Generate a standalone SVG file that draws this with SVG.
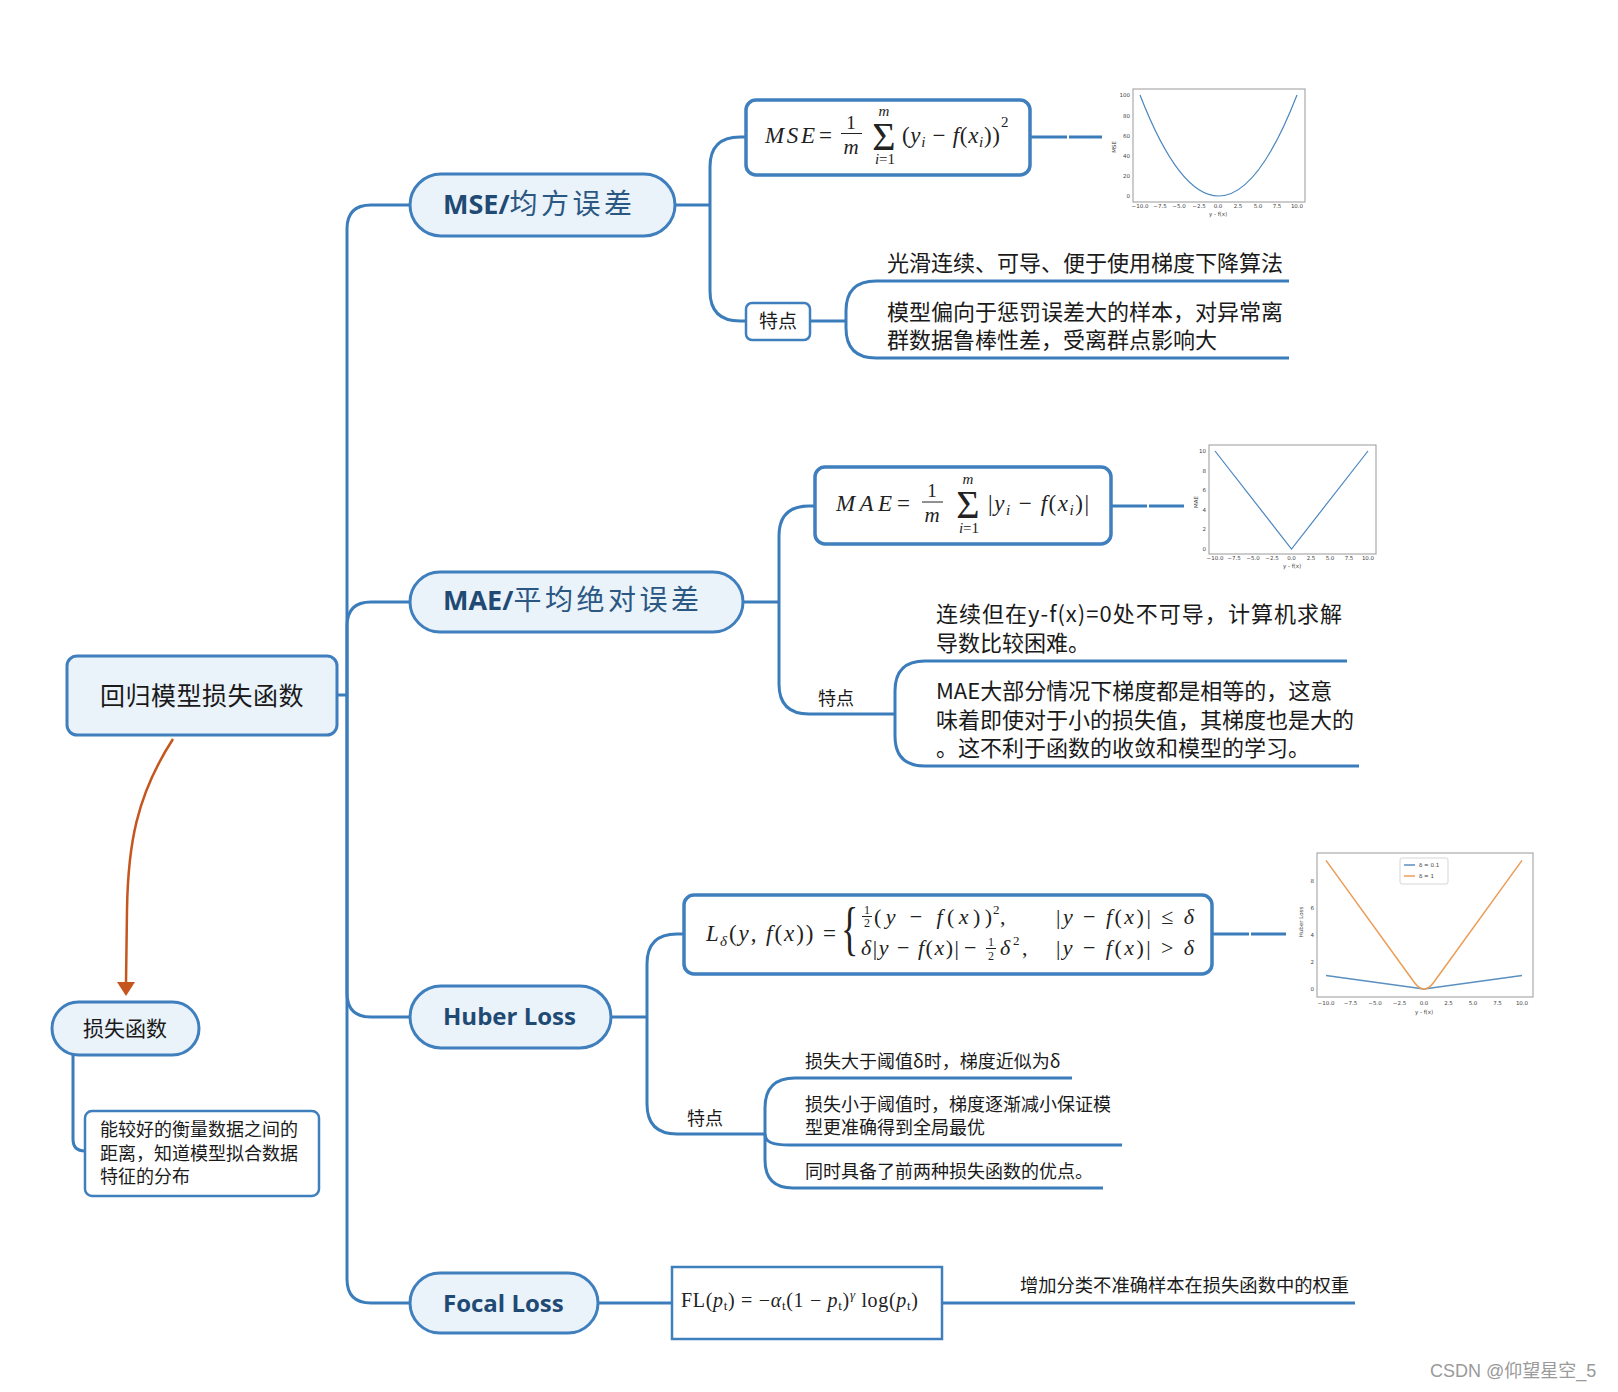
<svg xmlns="http://www.w3.org/2000/svg" width="1618" height="1392" viewBox="0 0 1618 1392">
<defs>
<style>
.ln{fill:none;stroke:#3b7dbb;stroke-width:3}
.node{fill:#eaf2fa;stroke:#3f7fbd;stroke-width:3}
.fbox{fill:#fff;stroke:#3f7fbd;stroke-width:3.5}
.cn{font-family:"Noto Sans CJK SC","Noto Sans",sans-serif;fill:#1a1a1a}
.nt{font-family:"Open Sans","Noto Sans",sans-serif;font-weight:700;fill:#1f4a74}
.nc{font-family:"Noto Sans CJK SC",sans-serif;font-weight:400;fill:#2b5783}
.mth{font-family:"Liberation Serif","DejaVu Serif",serif;fill:#222}
.it{font-style:italic}
.tk{font-family:"DejaVu Sans",sans-serif;font-size:5.5px;fill:#444}
.frame{fill:#fff;stroke:#999;stroke-width:1}
.bar{stroke:#222;stroke-width:1}
</style>
</defs>

<g id="connectors">
<path class="ln" d="M337,695 H347"/>
<path class="ln" d="M347,695 V229 Q347,205 371,205 H410"/>
<path class="ln" d="M347,695 V626 Q347,602 371,602 H410"/>
<path class="ln" d="M347,695 V993 Q347,1017 371,1017 H410"/>
<path class="ln" d="M347,695 V1279 Q347,1303 371,1303 H410"/>
<!-- MSE -->
<path class="ln" d="M675,205 H710"/>
<path class="ln" d="M710,205 V167 Q710,137 740,137 H746"/>
<path class="ln" d="M710,205 V291 Q710,321 740,321 H746"/>
<path class="ln" d="M810,321 H846"/>
<path class="ln" d="M846,321 V311 Q846,281 876,281 H1289"/>
<path class="ln" d="M846,321 V328 Q846,358 876,358 H1289"/>
<path class="ln" d="M1030,137 H1067" stroke-width="3.5"/>
<path class="ln" d="M1069,137 H1102"/>
<!-- MAE -->
<path class="ln" d="M743,602 H779"/>
<path class="ln" d="M779,602 V536 Q779,506 809,506 H815"/>
<path class="ln" d="M779,602 V684 Q779,714 809,714 H895"/>
<path class="ln" d="M895,714 V691 Q895,661 925,661 H1347"/>
<path class="ln" d="M895,714 V736 Q895,766 925,766 H1359"/>
<path class="ln" d="M1111,506 H1147" stroke-width="3.5"/>
<path class="ln" d="M1149,506 H1184"/>
<!-- Huber -->
<path class="ln" d="M611,1017 H647"/>
<path class="ln" d="M647,1017 V964 Q647,934 677,934 H684"/>
<path class="ln" d="M647,1017 V1104 Q647,1134 677,1134 H765"/>
<path class="ln" d="M765,1134 V1108 Q765,1078 795,1078 H1072"/>
<path class="ln" d="M765,1134 C765,1142 772,1145 790,1145 H1122"/>
<path class="ln" d="M765,1134 V1160 Q765,1188 793,1188 H1103"/>
<path class="ln" d="M1212,934 H1249" stroke-width="3.5"/>
<path class="ln" d="M1251,934 H1286"/>
<!-- Focal -->
<path class="ln" d="M598,1303 H672"/>
<path class="ln" d="M942,1303 H1355"/>
<!-- loss function -->
<path class="ln" d="M73,1055 V1139 Q73,1151 85,1151"/>
<path d="M173,739 C136,796 128,846 127,910 L126,983" fill="none" stroke="#c5561e" stroke-width="2.5"/>
<polygon points="117,982 135,982 126,996" fill="#c5561e"/>
</g>

<g id="root">
<rect class="node" x="67" y="656" width="270" height="79" rx="10" stroke-width="2.5"/>
<text class="cn" x="202" y="705" font-size="25" text-anchor="middle" letter-spacing="0.5">回归模型损失函数</text>
</g>

<g id="loss">
<rect class="node" x="52" y="1002" width="147" height="53" rx="26.5" stroke-width="2.5"/>
<text class="cn" x="125" y="1036" font-size="21" text-anchor="middle">损失函数</text>
</g>

<g id="loss-desc">
<rect x="85" y="1111" width="234" height="85" rx="7" fill="#fff" stroke="#3f7fbd" stroke-width="2.5"/>
<text class="cn" x="100" y="1136" font-size="18">能较好的衡量数据之间的</text>
<text class="cn" x="100" y="1160" font-size="18">距离，知道模型拟合数据</text>
<text class="cn" x="100" y="1183" font-size="18">特征的分布</text>
</g>

<g id="mse">
<rect class="node" x="410" y="174" width="265" height="62" rx="31"/>
<text class="nt" x="443" y="214" font-size="27">MSE/<tspan class="nc" font-size="28" letter-spacing="3.5">均方误差</tspan></text>
</g>

<g id="mse-formula">
<rect class="fbox" x="746" y="100" width="284" height="75" rx="10"/>
<text class="mth it" x="765" y="143" font-size="23" textLength="50" lengthAdjust="spacing">MSE</text>
<text class="mth" x="819" y="143" font-size="23">=</text>
<text class="mth" x="851" y="129" font-size="19" text-anchor="middle">1</text>
<line class="bar" x1="841" y1="133.5" x2="862" y2="133.5"/>
<text class="mth it" x="851" y="154" font-size="21" text-anchor="middle">m</text>
<text class="mth" x="884" y="150" font-size="40" text-anchor="middle">Σ</text>
<text class="mth it" x="884" y="116" font-size="15" text-anchor="middle">m</text>
<text class="mth" x="885" y="164" font-size="15" text-anchor="middle"><tspan class="it">i</tspan>=1</text>
<text class="mth" x="902" y="143" font-size="23" textLength="98" lengthAdjust="spacing">(<tspan class="it">y</tspan><tspan class="it" font-size="15" dy="4">i</tspan><tspan dy="-4"> − </tspan><tspan class="it">f</tspan>(<tspan class="it">x</tspan><tspan class="it" font-size="15" dy="4">i</tspan><tspan dy="-4">))</tspan></text>
<text class="mth" x="1001" y="127" font-size="15">2</text>
</g>

<g id="mse-chart">
<rect class="frame" x="1133" y="89" width="172" height="113"/>
<path d="M1140,95 Q1218.5,297 1297,95" fill="none" stroke="#4a86be" stroke-width="1.2"/>
<g class="tk" text-anchor="end">
<text x="1130" y="97">100</text><text x="1130" y="118">80</text><text x="1130" y="138">60</text><text x="1130" y="158">40</text><text x="1130" y="178">20</text><text x="1130" y="198">0</text>
</g>
<g class="tk" text-anchor="middle">
<text x="1140" y="208">−10.0</text><text x="1160" y="208">−7.5</text><text x="1179" y="208">−5.0</text><text x="1199" y="208">−2.5</text><text x="1218" y="208">0.0</text><text x="1238" y="208">2.5</text><text x="1258" y="208">5.0</text><text x="1277" y="208">7.5</text><text x="1297" y="208">10.0</text>
<text x="1218" y="216">y - f(x)</text>
<text transform="translate(1116,147) rotate(-90)">MSE</text>
</g>
</g>

<g id="mse-feature">
<rect x="746" y="303" width="64" height="37" rx="6" fill="#fff" stroke="#3f7fbd" stroke-width="2.5"/>
<text class="cn" x="778" y="328" font-size="19" text-anchor="middle">特点</text>
</g>
<g id="mse-notes">
<text class="cn" x="887" y="271" font-size="22">光滑连续、可导、便于使用梯度下降算法</text>
<text class="cn" x="887" y="320" font-size="22">模型偏向于惩罚误差大的样本，对异常离</text>
<text class="cn" x="887" y="348" font-size="22">群数据鲁棒性差，受离群点影响大</text>
</g>

<g id="mae">
<rect class="node" x="410" y="572" width="333" height="60" rx="30"/>
<text class="nt" x="443" y="610" font-size="27">MAE/<tspan class="nc" font-size="28" letter-spacing="3.5">平均绝对误差</tspan></text>
</g>

<g id="mae-formula">
<rect class="fbox" x="815" y="467" width="296" height="77" rx="10"/>
<text class="mth it" x="836" y="511" font-size="23" textLength="56" lengthAdjust="spacing">MAE</text>
<text class="mth" x="897" y="511" font-size="23">=</text>
<text class="mth" x="932" y="497" font-size="19" text-anchor="middle">1</text>
<line class="bar" x1="922" y1="502" x2="943" y2="502"/>
<text class="mth it" x="932" y="522" font-size="21" text-anchor="middle">m</text>
<text class="mth" x="968" y="518" font-size="40" text-anchor="middle">Σ</text>
<text class="mth it" x="968" y="484" font-size="15" text-anchor="middle">m</text>
<text class="mth" x="969" y="533" font-size="15" text-anchor="middle"><tspan class="it">i</tspan>=1</text>
<text class="mth" x="988" y="511" font-size="23" textLength="101" lengthAdjust="spacing">|<tspan class="it">y</tspan><tspan class="it" font-size="15" dy="4">i</tspan><tspan dy="-4"> − </tspan><tspan class="it">f</tspan>(<tspan class="it">x</tspan><tspan class="it" font-size="15" dy="4">i</tspan><tspan dy="-4">)|</tspan></text>
</g>

<g id="mae-chart">
<rect class="frame" x="1209" y="445" width="167" height="109"/>
<path d="M1215,451 L1291.5,549 L1368,451" fill="none" stroke="#4a86be" stroke-width="1.2"/>
<g class="tk" text-anchor="end">
<text x="1206" y="453">10</text><text x="1206" y="472.6">8</text><text x="1206" y="492.2">6</text><text x="1206" y="511.8">4</text><text x="1206" y="531.4">2</text><text x="1206" y="551">0</text>
</g>
<g class="tk" text-anchor="middle">
<text x="1215" y="560">−10.0</text><text x="1234" y="560">−7.5</text><text x="1253" y="560">−5.0</text><text x="1272" y="560">−2.5</text><text x="1291.5" y="560">0.0</text><text x="1311" y="560">2.5</text><text x="1330" y="560">5.0</text><text x="1349" y="560">7.5</text><text x="1368" y="560">10.0</text>
<text x="1292" y="568">y - f(x)</text>
<text transform="translate(1198,502) rotate(-90)">MAE</text>
</g>
</g>

<g id="mae-feature">
<text class="cn" x="818" y="705" font-size="18">特点</text>
</g>
<g id="mae-notes">
<text class="cn" x="936" y="622" font-size="22" textLength="406" lengthAdjust="spacing">连续但在y-f(x)=0处不可导，计算机求解</text>
<text class="cn" x="936" y="651" font-size="22">导数比较困难。</text>
<text class="cn" x="936" y="699" font-size="22">MAE大部分情况下梯度都是相等的，这意</text>
<text class="cn" x="936" y="728" font-size="22">味着即使对于小的损失值，其梯度也是大的</text>
<text class="cn" x="936" y="756" font-size="22">。这不利于函数的收敛和模型的学习。</text>
</g>

<g id="huber">
<rect class="node" x="410" y="986" width="201" height="62" rx="31"/>
<text class="nt" x="443" y="1025" font-size="24">Huber Loss</text>
</g>

<g id="huber-formula">
<rect class="fbox" x="684" y="895" width="528" height="79" rx="10"/>
<text class="mth it" x="706" y="941" font-size="23">L</text>
<text class="mth it" x="720" y="946" font-size="15">δ</text>
<text class="mth" x="729" y="941" font-size="23" textLength="107" lengthAdjust="spacing">(<tspan class="it">y</tspan>, <tspan class="it">f</tspan>(<tspan class="it">x</tspan>)) =</text>
<text class="mth" transform="translate(841,948) scale(0.6,1)" font-size="60">{</text>
<text class="mth" x="867" y="914" font-size="12" text-anchor="middle">1</text>
<line class="bar" x1="862" y1="916.5" x2="872" y2="916.5" stroke-width="0.8"/>
<text class="mth" x="867" y="927" font-size="12" text-anchor="middle">2</text>
<text class="mth" x="874" y="924" font-size="22" textLength="118" lengthAdjust="spacing">(<tspan class="it">y</tspan> − <tspan class="it">f</tspan>(<tspan class="it">x</tspan>))</text>
<text class="mth" x="993" y="914" font-size="13">2</text>
<text class="mth" x="1000" y="924" font-size="22">,</text>
<text class="mth" x="1056" y="924" font-size="22" textLength="138" lengthAdjust="spacing">|<tspan class="it">y</tspan> − <tspan class="it">f</tspan>(<tspan class="it">x</tspan>)| ≤ <tspan class="it">δ</tspan></text>
<text class="mth" x="861" y="955" font-size="22" textLength="98" lengthAdjust="spacing"><tspan class="it">δ</tspan>|<tspan class="it">y</tspan> − <tspan class="it">f</tspan>(<tspan class="it">x</tspan>)|</text>
<text class="mth" x="964" y="955" font-size="22">−</text>
<text class="mth" x="991" y="946" font-size="12" text-anchor="middle">1</text>
<line class="bar" x1="986" y1="948.5" x2="996" y2="948.5" stroke-width="0.8"/>
<text class="mth" x="991" y="960" font-size="12" text-anchor="middle">2</text>
<text class="mth it" x="1000" y="955" font-size="22">δ</text>
<text class="mth" x="1013" y="945" font-size="13">2</text>
<text class="mth" x="1022" y="955" font-size="22">,</text>
<text class="mth" x="1056" y="955" font-size="22" textLength="138" lengthAdjust="spacing">|<tspan class="it">y</tspan> − <tspan class="it">f</tspan>(<tspan class="it">x</tspan>)| &gt; <tspan class="it">δ</tspan></text>
</g>

<g id="huber-chart">
<rect class="frame" x="1317" y="853" width="216" height="144"/>
<path d="M1326,975.5 L1424,989 L1522,975.5" fill="none" stroke="#5a8fc0" stroke-width="1.5"/>
<path d="M1326,860.4 L1414.2,982.2 Q1424,995.8 1433.8,982.2 L1522,860.4" fill="none" stroke="#eb9d57" stroke-width="1.5"/>
<rect x="1400" y="858" width="48" height="26" rx="2" fill="#fff" stroke="#ccc" stroke-width="0.8"/>
<line x1="1404" y1="865" x2="1415" y2="865" stroke="#5a8fc0" stroke-width="1.5"/>
<line x1="1404" y1="876" x2="1415" y2="876" stroke="#eb9d57" stroke-width="1.5"/>
<text class="tk" x="1419" y="867">δ = 0.1</text>
<text class="tk" x="1419" y="878">δ = 1</text>
<g class="tk" text-anchor="end">
<text x="1314" y="883">8</text><text x="1314" y="910">6</text><text x="1314" y="937">4</text><text x="1314" y="964">2</text><text x="1314" y="991">0</text>
</g>
<g class="tk" text-anchor="middle">
<text x="1326" y="1005">−10.0</text><text x="1350.5" y="1005">−7.5</text><text x="1375" y="1005">−5.0</text><text x="1399.5" y="1005">−2.5</text><text x="1424" y="1005">0.0</text><text x="1448.5" y="1005">2.5</text><text x="1473" y="1005">5.0</text><text x="1497.5" y="1005">7.5</text><text x="1522" y="1005">10.0</text>
<text x="1424" y="1014">y - f(x)</text>
<text transform="translate(1303,922) rotate(-90)">Huber Loss</text>
</g>
</g>

<g id="huber-feature">
<text class="cn" x="687" y="1125" font-size="18">特点</text>
</g>
<g id="huber-notes">
<text class="cn" x="805" y="1068" font-size="18">损失大于阈值δ时，梯度近似为δ</text>
<text class="cn" x="805" y="1111" font-size="18">损失小于阈值时，梯度逐渐减小保证模</text>
<text class="cn" x="805" y="1134" font-size="18">型更准确得到全局最优</text>
<text class="cn" x="805" y="1178" font-size="18">同时具备了前两种损失函数的优点。</text>
</g>

<g id="focal">
<rect class="node" x="410" y="1273" width="188" height="60" rx="30"/>
<text class="nt" x="443" y="1312" font-size="24">Focal Loss</text>
</g>

<g id="focal-formula">
<rect x="672" y="1267" width="270" height="72" fill="#fff" stroke="#3f7fbd" stroke-width="2.5"/>
<text class="mth" x="681" y="1307" font-size="20" textLength="237" lengthAdjust="spacing">FL(<tspan class="it">p</tspan><tspan font-size="13" dy="3">t</tspan><tspan dy="-3">) = −</tspan><tspan class="it">α</tspan><tspan font-size="13" dy="3">t</tspan><tspan dy="-3">(1 − </tspan><tspan class="it">p</tspan><tspan font-size="13" dy="3">t</tspan><tspan dy="-3">)</tspan><tspan class="it" font-size="13" dy="-8">γ</tspan><tspan dy="8"> log(</tspan><tspan class="it">p</tspan><tspan font-size="13" dy="3">t</tspan><tspan dy="-3">)</tspan></text>
</g>

<g id="focal-note">
<text class="cn" x="1020" y="1292" font-size="18.3">增加分类不准确样本在损失函数中的权重</text>
</g>

<text x="1430" y="1377" font-family="Liberation Sans, Noto Sans CJK SC, sans-serif" font-size="18" fill="#9a9a9a">CSDN @仰望星空_5</text>
</svg>
